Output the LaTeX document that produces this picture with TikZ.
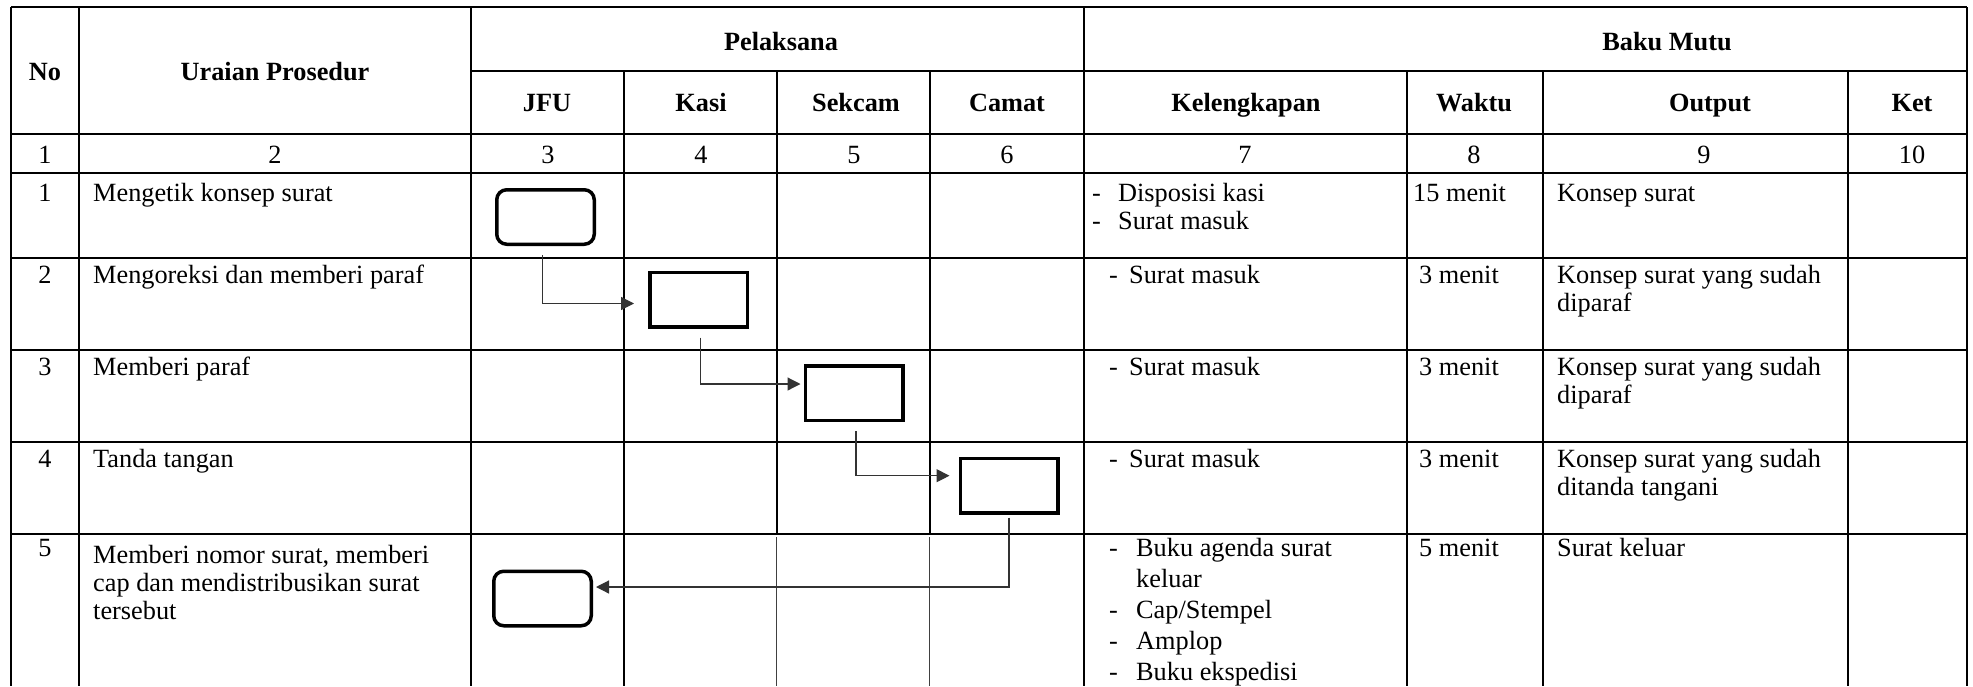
\documentclass[tikz,border=0pt]{standalone}
\usepackage{fontspec}
\setmainfont{Liberation Serif}
\usetikzlibrary{arrows.meta}
\newcommand{\mlines}[1]{\begin{tabular}[t]{@{}l@{}}#1\end{tabular}}
\newcommand{\dsh}[1]{\makebox[#1][l]{-}}
\begin{document}
\begin{tikzpicture}[x=1pt,y=-1pt,
  gridline/.style={line width=1.6pt, black},
  thinsep/.style={line width=0.9pt, black!75},
  txt/.style={inner sep=0pt, anchor=base west, font=\fontsize{26.3}{28}\selectfont},
  ctxt/.style={inner sep=0pt, anchor=base, font=\fontsize{26.3}{28}\selectfont},
  hdr/.style={inner sep=0pt, anchor=base, font=\fontsize{26.3}{28}\selectfont\bfseries},
  actbox/.style={draw, line width=3.5pt, minimum width=97.5pt, minimum height=54.5pt, inner sep=0pt},
  termbox/.style={actbox, rounded corners=10pt},
  conn/.style={line width=1.2pt, black!80, -{Triangle[length=13pt,width=13pt]}}
]
\useasboundingbox (0,0) rectangle (1973,686);
\fill[white] (0,0) rectangle (1973,686);

% horizontal lines
\draw[gridline] (11,7) -- (1967,7);
\draw[gridline] (471,71) -- (1967,71);
\foreach \yy in {134,173,258,350,442,534}
  \draw[gridline] (11,\yy) -- (1967,\yy);
% vertical lines
\foreach \xx in {11,79,471,1084,1967}
  \draw[gridline] (\xx,7) -- (\xx,686);
\foreach \xx in {624,1407,1543,1848}
  \draw[gridline] (\xx,71) -- (\xx,686);
\foreach \xx in {777,930}
  \draw[gridline] (\xx,71) -- (\xx,534);
\draw[thinsep] (776,537) -- (776,686);
\draw[thinsep] (929,537) -- (929,686);

% header
\node[hdr] (hNo) at (45,80) {No};
\node[hdr] (hUr) at (275,80) {Uraian Prosedur};
\node[hdr] (hPel) at (781,50) {Pelaksana};
\node[hdr] (hBaku) at (1667,50) {Baku Mutu};
\node[hdr] (hJFU) at (547,111) {JFU};
\node[hdr] (hKasi) at (701,111) {Kasi};
\node[hdr] (hSek) at (856,111) {Sekcam};
\node[hdr] (hCam) at (1007,111) {Camat};
\node[hdr] (hKel) at (1246,111) {Kelengkapan};
\node[hdr] (hWak) at (1474,111) {Waktu};
\node[hdr] (hOut) at (1710,111) {Output};
\node[hdr] (hKet) at (1912,111) {Ket};

% number row
\node[ctxt] (n1) at (45,163) {1};
\node[ctxt] (n2) at (275,163) {2};
\node[ctxt] (n3) at (548,163) {3};
\node[ctxt] (n4) at (701,163) {4};
\node[ctxt] (n5) at (854,163) {5};
\node[ctxt] (n6) at (1007,163) {6};
\node[ctxt] (n7) at (1245,163) {7};
\node[ctxt] (n8) at (1474,163) {8};
\node[ctxt] (n9) at (1704,163) {9};
\node[ctxt] (n10) at (1912,163) {10};

% row 1
\node[ctxt] (r1no) at (45,201) {1};
\node[txt] (r1ur) at (93,201) {Mengetik konsep surat};
\node[txt] (r1kel) at (1092,201) {\mlines{\dsh{26pt}Disposisi kasi\\ \dsh{26pt}Surat masuk}};
\node[txt] (r1wak) at (1413,201) {15 menit};
\node[txt] (r1out) at (1557,201) {Konsep surat};

% row 2
\node[ctxt] (r2no) at (45,283) {2};
\node[txt] (r2ur) at (93,283) {Mengoreksi dan memberi paraf};
\node[txt] (r2kel) at (1109,283) {\dsh{20pt}Surat masuk};
\node[txt] (r2wak) at (1419,283) {3 menit};
\node[txt] (r2out) at (1557,283) {\mlines{Konsep surat yang sudah\\diparaf}};

% row 3
\node[ctxt] (r3no) at (45,375) {3};
\node[txt] (r3ur) at (93,375) {Memberi paraf};
\node[txt] (r3kel) at (1109,375) {\dsh{20pt}Surat masuk};
\node[txt] (r3wak) at (1419,375) {3 menit};
\node[txt] (r3out) at (1557,375) {\mlines{Konsep surat yang sudah\\diparaf}};

% row 4
\node[ctxt] (r4no) at (45,467) {4};
\node[txt] (r4ur) at (93,467) {Tanda tangan};
\node[txt] (r4kel) at (1109,467) {\dsh{20pt}Surat masuk};
\node[txt] (r4wak) at (1419,467) {3 menit};
\node[txt] (r4out) at (1557,467) {\mlines{Konsep surat yang sudah\\ditanda tangani}};

% row 5
\node[ctxt] (r5no) at (45,556) {5};
\node[txt] (r5ur) at (93,563) {\mlines{Memberi nomor surat, memberi\\cap dan mendistribusikan surat\\tersebut}};
\node[txt] (r5kel) at (1109,556) {\mlines{\dsh{27pt}Buku agenda surat\\[3pt] \hspace*{27pt}keluar\\[3pt] \dsh{27pt}Cap/Stempel\\[3pt] \dsh{27pt}Amplop\\[3pt] \dsh{27pt}Buku ekspedisi}};
\node[txt] (r5wak) at (1419,556) {5 menit};
\node[txt] (r5out) at (1557,556) {Surat keluar};

% flow boxes
\node[termbox] (b1) at (545.5,217) {};
\node[actbox] (b2) at (698.5,299.5) {};
\node[actbox] (b3) at (854,393) {};
\node[actbox] (b4) at (1009,485.7) {};
\node[termbox] (b5) at (542.5,598.5) {};

% connectors
\draw[conn] ([xshift=-3pt,yshift=-9pt]b1.south) |- ([xshift=-14pt,yshift=-4pt]b2.west);
\draw[conn] ([xshift=2pt,yshift=-9pt]b2.south) |- ([xshift=-3pt,yshift=9pt]b3.west);
\draw[conn] ([xshift=2pt,yshift=-9pt]b3.south) |- ([xshift=-9pt,yshift=10pt]b4.west);
\draw[conn] ([yshift=-3pt]b4.south) |- ([xshift=3pt,yshift=11.5pt]b5.east);
\end{tikzpicture}
\end{document}
